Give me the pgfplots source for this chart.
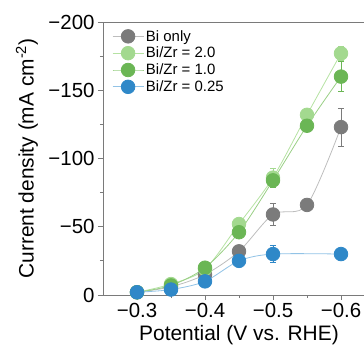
\documentclass[border=0pt]{standalone}
\usepackage{pgfplots}
\pgfplotsset{compat=1.18}
\usepackage{pgfplotstable}
\usetikzlibrary{calc}
\usepackage{fontspec}
\setmainfont{Liberation Sans}
\definecolor{axgray}{HTML}{7A7A7A}
\definecolor{cgray}{HTML}{7B7B7B}
\definecolor{lgray}{HTML}{BDBDBD}
\definecolor{clg}{HTML}{A3D98F}
\definecolor{llg}{HTML}{B5E2A2}
\definecolor{cdg}{HTML}{6BB655}
\definecolor{ldg}{HTML}{9ACF86}
\definecolor{cbl}{HTML}{2F88C8}
\definecolor{lbl}{HTML}{92C3E6}
\pgfplotstableread{
x y e
-0.30 -2 0.5
-0.35 -6 1
-0.40 -15 2
-0.45 -32 3
-0.50 -59 8
-0.55 -66 3
-0.60 -123 14
}\bionly
\pgfplotstableread{
x y e
-0.30 -2 0.5
-0.35 -8 1
-0.40 -19 2
-0.45 -52 3
-0.50 -86 7
-0.55 -132 3
-0.60 -177 5
}\twoo
\pgfplotstableread{
x y e
-0.30 -2 0.5
-0.35 -7 1
-0.40 -20 2
-0.45 -46 2
-0.50 -84 5
-0.55 -124 3
-0.60 -160 11
}\onee
\pgfplotstableread{
x y e
-0.30 -2 0.5
-0.35 -4 1
-0.40 -10 1
-0.45 -25 3
-0.50 -30 6
-0.60 -30 4
}\quart
\begin{document}
\begin{tikzpicture}
\begin{axis}[
  scale only axis, width=272bp, height=273bp,
  x dir=reverse, y dir=reverse,
  xmin=-0.65, xmax=-0.25, ymin=-200, ymax=0,
  xtick={-0.3,-0.4,-0.5,-0.6}, xticklabels={−0.3,−0.4,−0.5,−0.6},
  minor xtick={-0.35,-0.45,-0.55},
  ytick={-200,-150,-100,-50,0}, yticklabels={−200,−150,−100,−50,0},
  minor ytick={-175,-125,-75,-25},
  tick align=outside, xtick pos=bottom, ytick pos=left,
  major tick length=5bp, minor tick length=3bp,
  axis line style={draw=axgray, line width=0.9bp},
  every tick/.style={axgray, line width=0.9bp},
  ticklabel style={font=\fontsize{20.5}{24}\selectfont},
  label style={font=\fontsize{21}{25}\selectfont},
  xlabel={Potential (V vs. RHE)},
  ylabel={Current density (mA cm\textsuperscript{-2})},
  xlabel style={at={(axis description cs:0.5,-0.146)}, anchor=center},
  ylabel style={at={(axis description cs:-0.28,0.5)}, anchor=center},
  legend cell align=left,
  legend style={at={(axis description cs:0,1)}, anchor=north west, xshift=6bp, yshift=-4bp,
    draw=none, fill=none, font=\fontsize{15}{17}\selectfont, row sep=0.5bp,
    nodes={inner sep=2bp}},
  legend image code/.code={\draw[#1, mark repeat=2, mark phase=2] plot coordinates {(0bp,0bp)(15.5bp,0bp)(31bp,0bp)};},
  every axis plot/.append style={line width=0.8bp, smooth, mark=*, mark size=6.8bp},
]
\coordinate (O) at (axis description cs:0,0);
\addplot[color=lgray, mark options={draw=cgray, fill=cgray},
  error bars/.cd, y dir=both, y explicit, error bar style={cgray, line width=0.8bp},
  error mark options={rotate=90, mark size=3bp, cgray, line width=0.8bp}]
  table[x=x, y=y, y error=e] {\bionly};
\addlegendentry{Bi only}
\addplot[color=llg, mark options={draw=clg, fill=clg},
  error bars/.cd, y dir=both, y explicit, error bar style={clg, line width=0.8bp},
  error mark options={rotate=90, mark size=3bp, clg, line width=0.8bp}]
  table[x=x, y=y, y error=e] {\twoo};
\addlegendentry{Bi/Zr = 2.0}
\addplot[color=ldg, mark options={draw=cdg, fill=cdg},
  error bars/.cd, y dir=both, y explicit, error bar style={cdg, line width=0.8bp},
  error mark options={rotate=90, mark size=3bp, cdg, line width=0.8bp}]
  table[x=x, y=y, y error=e] {\onee};
\addlegendentry{Bi/Zr = 1.0}
\addplot[color=lbl, mark options={draw=cbl, fill=cbl},
  error bars/.cd, y dir=both, y explicit, error bar style={cbl, line width=0.8bp},
  error mark options={rotate=90, mark size=3bp, cbl, line width=0.8bp}]
  table[x=x, y=y, y error=e] {\quart};
\addlegendentry{Bi/Zr = 0.25}
\end{axis}
\pgfresetboundingbox
\path[use as bounding box] ($(O)+(-103bp,-50bp)$) rectangle ($(O)+(261bp,295bp)$);
\end{tikzpicture}
\end{document}
